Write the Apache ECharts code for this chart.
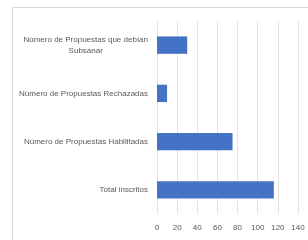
<!DOCTYPE html>
<html>
<head>
    <meta charset="utf-8">
    <title></title>
    <style type="text/css">
        html, body { height: 100%; }
        body { margin: 0; padding: 0; background: #fff; }
        #main { width: 308px; height: 240px; }
    </style>
</head>
<body>
    <div id="main"></div>
    <script src="https://cdn.jsdelivr.net/npm/echarts@6/dist/echarts.min.js"></script>
    <script type="text/javascript">
        var categories = ['Total inscritos', 'Número de Propuestas Habilitadas', 'Número de Propuestas Rechazadas', 'Número de Propuestas que debían\nSubsanar'];
        var values = [116, 75, 10, 30];
        var xTicks = [0, 20, 40, 60, 80, 100, 120, 140];

        var myChart = echarts.init(document.getElementById('main'));
        myChart.setOption({
            animation: false,
            textStyle: { fontFamily: 'Liberation Sans' },
            graphic: [{
                type: 'rect',
                shape: { x: 12.5, y: 7.5, width: 400, height: 400 },
                style: { fill: 'none', stroke: '#d9d9d9', lineWidth: 1 }
            }],
            grid: { left: 157, right: 10, top: 21, bottom: 26 },
            xAxis: {
                type: 'value',
                min: xTicks[0],
                max: xTicks[xTicks.length - 1],
                interval: 20,
                axisLine: { show: false },
                axisTick: { show: false },
                splitLine: { lineStyle: { color: '#e3e3e3' } },
                axisLabel: { color: '#595959', fontSize: 8, margin: 10 }
            },
            yAxis: {
                type: 'category',
                data: categories,
                axisLine: { show: false },
                axisTick: { show: false },
                axisLabel: {
                    color: '#595959',
                    fontSize: 8,
                    margin: 9,
                    formatter: function (v) {
                        return v.split('\n').map(function (s) { return '{c|' + s + '}'; }).join('\n');
                    },
                    rich: { c: { align: 'center', fontSize: 8, color: '#595959', lineHeight: 11 } }
                }
            },
            series: [{
                type: 'bar',
                data: values,
                barCategoryGap: '64%',
                itemStyle: { color: '#4472c4' }
            }]
        });
    </script>
</body>
</html>
